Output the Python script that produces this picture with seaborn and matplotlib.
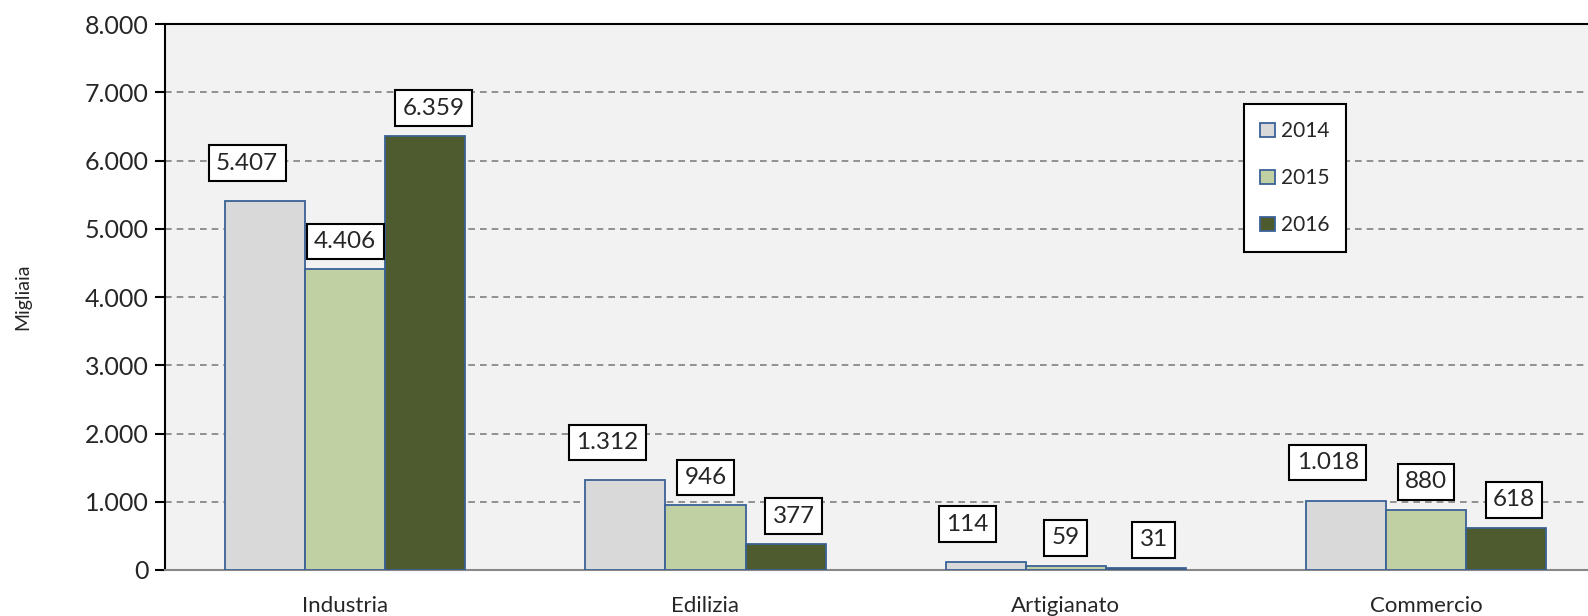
import matplotlib
matplotlib.use("Agg")
import matplotlib.pyplot as plt
import matplotlib.ticker as mticker
import seaborn as sns
import pandas as pd

categories = ["Industria", "Edilizia", "Artigianato", "Commercio"]
years = ["2014", "2015", "2016"]
values_2014 = [5407, 1312, 114, 1018]
values_2015 = [4406, 946, 59, 880]
values_2016 = [6359, 377, 31, 618]
y_ticks = [0, 1000, 2000, 3000, 4000, 5000, 6000, 7000, 8000]

colors = ["#D9D9D9", "#C4D79B", "#4F6228"]
edge = "#3A6296"
font = ["Lato", "DejaVu Sans"]

rows = []
for year, vals in zip(years, [values_2014, values_2015, values_2016]):
    for cat, v in zip(categories, vals):
        rows.append({"categoria": cat, "anno": year, "valore": v})
df = pd.DataFrame(rows)

sns.set_style("white")
plt.rcParams["font.family"] = font

fig = plt.figure(figsize=(15.88, 6.16), dpi=100)
ax = fig.add_axes([0.104, 0.0747, 0.896, 0.886])
ax.set_facecolor("#F2F2F2")

sns.barplot(data=df, x="categoria", y="valore", hue="anno", order=categories,
            hue_order=years, palette=colors, width=0.667, gap=0,
            edgecolor=edge, linewidth=1.3, ax=ax, zorder=3)

ax.set_ylim(0, 8000)
ax.set_xlim(-0.5, 3.45)
ax.set_yticks(y_ticks)
ax.yaxis.set_major_formatter(mticker.FuncFormatter(lambda v, p: f"{int(v):,}".replace(",", ".")))
ax.yaxis.grid(True, linestyle=(0, (4, 3)), color="#808080", linewidth=1.2, zorder=0)
ax.set_axisbelow(True)

# category boundaries as minor ticks, labels at centres
ax.set_xticks([0, 1, 2, 3])
ax.set_xticks([-0.5, 0.5, 1.5, 2.5], minor=True)
ax.tick_params(axis="x", which="major", length=0, pad=19, labelsize=16)
ax.tick_params(axis="x", which="minor", length=7, width=1, color="#888888", direction="out")
ax.tick_params(axis="y", which="major", length=7, width=1.5, color="black", direction="out",
               labelsize=18, left=True, pad=5)
ax.set_xlabel("")
ax.set_ylabel("Migliaia", fontsize=14, labelpad=38)

ax.spines["left"].set_color("black")
ax.spines["left"].set_linewidth(1.5)
ax.spines["top"].set_color("black")
ax.spines["top"].set_linewidth(1.5)
ax.spines["bottom"].set_color("#888888")
ax.spines["bottom"].set_linewidth(1.5)
ax.spines["right"].set_visible(False)

# data labels in white boxes
shifts = [(-18, 38), (0, 28), (8, 28)]
for cont, (dx, dy) in zip(ax.containers, shifts):
    for bar in cont:
        h = bar.get_height()
        ax.annotate(f"{int(round(h)):,}".replace(",", "."),
                    xy=(bar.get_x() + bar.get_width() / 2, h),
                    xytext=(dx, dy), textcoords="offset pixels",
                    ha="center", va="center", fontsize=17.5, zorder=5,
                    bbox=dict(boxstyle="square,pad=0.3", fc="white", ec="black", lw=1.5))

leg = ax.legend(loc="upper left", bbox_to_anchor=(0.758, 0.853), frameon=True,
                fancybox=False, edgecolor="black", fontsize=15, labelspacing=1.3,
                handlelength=0.7, handleheight=0.7, handletextpad=0.3,
                borderpad=0.8, borderaxespad=0, title=None)
leg.get_frame().set_linewidth(1.5)
leg.get_frame().set_facecolor("white")
leg.get_frame().set_alpha(1)
for h in leg.legend_handles:
    h.set_edgecolor(edge)
    h.set_linewidth(1.3)

fig.savefig("out.png", dpi=100)
